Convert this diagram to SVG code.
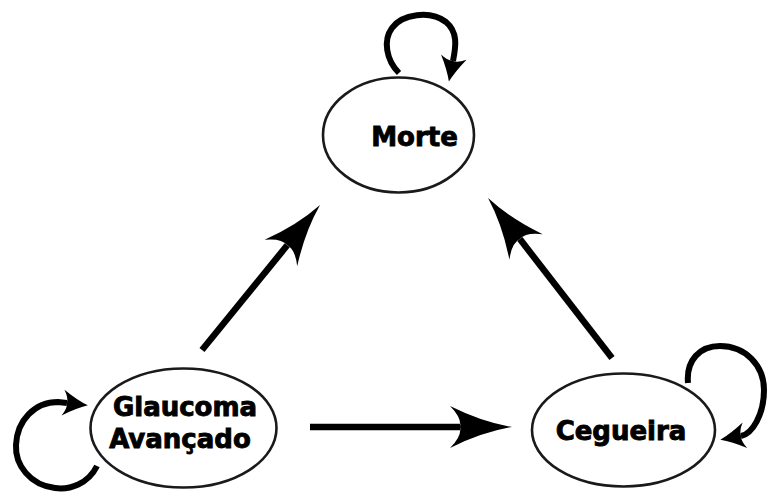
<svg xmlns="http://www.w3.org/2000/svg" width="768" height="494" viewBox="0 0 768 494">
  <style>
    .node { fill: #ffffff; stroke: #1a1a1a; stroke-width: 2.6; }
    .label { font-family: "DejaVu Sans", "Verdana", sans-serif; font-weight: bold; font-size: 26px; fill: #000; stroke: #000; stroke-width: 0.9; text-anchor: middle; }
    .edge { fill: none; stroke: #000; stroke-width: 6.5; }
    .loop { fill: none; stroke: #000; stroke-width: 6; }
  </style>
  <defs>
    <marker id="bigHead" markerUnits="userSpaceOnUse" orient="auto" refX="0" refY="0" markerWidth="80" markerHeight="60" viewBox="-15 -30 75 60" overflow="visible">
      <path d="M52,0 Q22,-5 -10,-21 Q2,-9 0,0 Q2,9 -10,21 Q22,5 52,0 Z" fill="#000"/>
    </marker>
    <marker id="smallHead" markerUnits="userSpaceOnUse" orient="auto" refX="0" refY="0" markerWidth="40" markerHeight="30" viewBox="-8 -15 34 30" overflow="visible">
      <path d="M21,0 Q10,-4 -4,-13 Q1,-5 0,0 Q1,5 -4,13 Q10,4 21,0 Z" fill="#000"/>
    </marker>
  </defs>
  <rect width="768" height="494" fill="#ffffff"/>

  <g id="connectors">
    <line class="edge" x1="202" y1="350" x2="287.2" y2="245.3" marker-end="url(#bigHead)"/>
    <line class="edge" x1="612" y1="358" x2="519.9" y2="239.1" marker-end="url(#bigHead)"/>
    <line class="edge" x1="310" y1="427" x2="460" y2="427" marker-end="url(#bigHead)"/>
    <path class="loop" d="M399,73 C386,60 383,40 392,28 C402,14 430,10 446,22 C458,32 456,46 453,61" marker-end="url(#smallHead)"/>
    <path class="loop" d="M97,466 C88,484 70,490 55,488 C30,485 15,465 16,445 C17,420 35,402 58,402 L67,403" marker-end="url(#smallHead)"/>
    <path class="loop" d="M688,383 C686,360 700,346 720,346 C745,346 764,365 764,390 C764,415 752,434 741,436" marker-end="url(#smallHead)"/>
  </g>

  <g id="morte">
    <ellipse class="node" cx="398.5" cy="135" rx="75.5" ry="57.5"/>
    <text class="label" x="414.5" y="146">Morte</text>
  </g>
  <g id="glaucoma">
    <ellipse class="node" cx="183.5" cy="428" rx="93" ry="59.5"/>
    <text class="label" x="185" y="416">Glaucoma</text>
    <text class="label" x="180" y="448">Avançado</text>
  </g>
  <g id="cegueira">
    <ellipse class="node" cx="623.5" cy="430" rx="91.5" ry="56.5"/>
    <text class="label" x="621" y="440">Cegueira</text>
  </g>
</svg>
